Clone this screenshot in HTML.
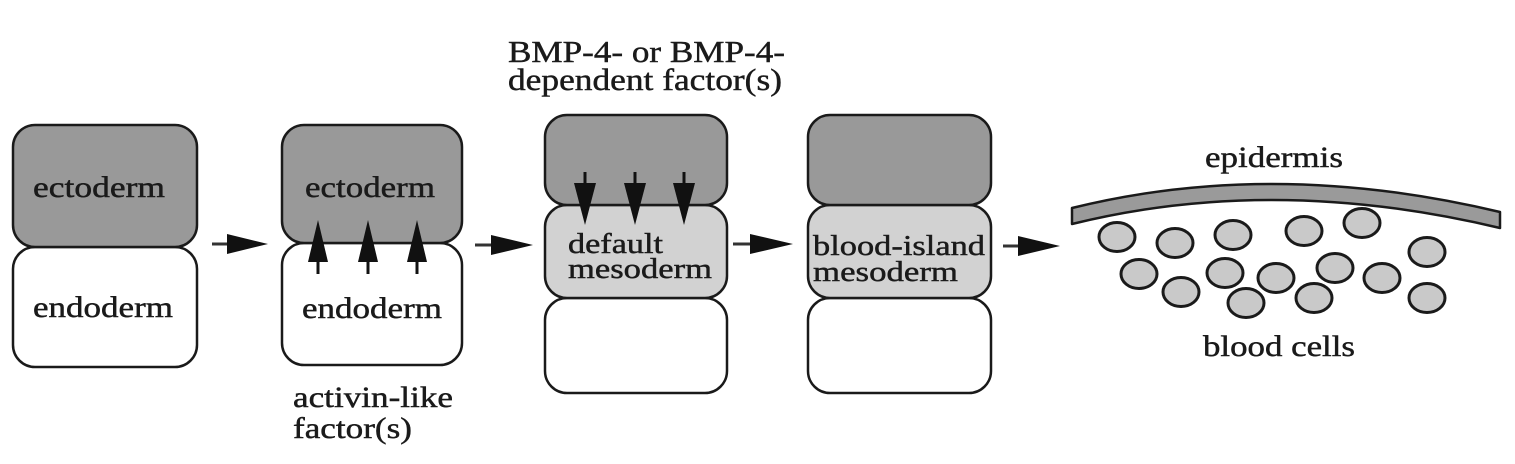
<!DOCTYPE html>
<html>
<head>
<meta charset="utf-8">
<style>
  html, body { margin: 0; padding: 0; background: #ffffff; }
  svg { display: block; }
  text { font-family: "Liberation Serif", "Times New Roman", serif; fill: #1a1a1a; stroke: #1a1a1a; stroke-width: 0.45; }
</style>
</head>
<body>
<svg width="1515" height="464" viewBox="0 0 1515 464" xmlns="http://www.w3.org/2000/svg">
  <rect x="0" y="0" width="1515" height="464" fill="#ffffff"/>

  <!-- Box 1 -->
  <rect x="13" y="247" width="184" height="120" rx="22" ry="22" fill="#ffffff" stroke="#1a1a1a" stroke-width="2.5"/>
  <rect x="13" y="125" width="184" height="122" rx="22" ry="22" fill="#999999" stroke="#1a1a1a" stroke-width="2.5"/>
  <text x="33" y="197" font-size="30" textLength="132" lengthAdjust="spacingAndGlyphs">ectoderm</text>
  <text x="33" y="317" font-size="30" textLength="140" lengthAdjust="spacingAndGlyphs">endoderm</text>

  <!-- Arrow 1 -->
  <line x1="212" y1="244" x2="232" y2="244" stroke="#333" stroke-width="3"/>
  <polygon points="227,234 268,244 227,254" fill="#111"/>

  <!-- Box 2 -->
  <rect x="282" y="243" width="180" height="122" rx="22" ry="22" fill="#ffffff" stroke="#1a1a1a" stroke-width="2.5"/>
  <rect x="282" y="125" width="180" height="118" rx="22" ry="22" fill="#999999" stroke="#1a1a1a" stroke-width="2.5"/>
  <text x="305" y="197" font-size="30" textLength="130" lengthAdjust="spacingAndGlyphs">ectoderm</text>
  <text x="302" y="318" font-size="30" textLength="140" lengthAdjust="spacingAndGlyphs">endoderm</text>
  <!-- up arrows -->
  <g fill="#111" stroke="#111">
    <line x1="318" y1="258" x2="318" y2="274" stroke-width="3"/>
    <polygon points="318,220 308,262 328,262" stroke="none"/>
    <line x1="368" y1="258" x2="368" y2="274" stroke-width="3"/>
    <polygon points="368,220 358,262 378,262" stroke="none"/>
    <line x1="417" y1="258" x2="417" y2="274" stroke-width="3"/>
    <polygon points="417,220 407,262 427,262" stroke="none"/>
  </g>
  <text x="293" y="407" font-size="30" textLength="160" lengthAdjust="spacingAndGlyphs">activin-like</text>
  <text x="293" y="438" font-size="30" textLength="119" lengthAdjust="spacingAndGlyphs">factor(s)</text>

  <!-- Arrow 2 -->
  <line x1="475" y1="245" x2="495" y2="245" stroke="#333" stroke-width="3"/>
  <polygon points="491,235 533,245 491,255" fill="#111"/>

  <!-- BMP label -->
  <text x="508" y="62" font-size="31" textLength="277" lengthAdjust="spacingAndGlyphs">BMP-4- or BMP-4-</text>
  <text x="508" y="90" font-size="31" textLength="274" lengthAdjust="spacingAndGlyphs">dependent factor(s)</text>

  <!-- Box 3 -->
  <rect x="545" y="298" width="182" height="95" rx="22" ry="22" fill="#ffffff" stroke="#1a1a1a" stroke-width="2.5"/>
  <rect x="545" y="205" width="182" height="93" rx="22" ry="22" fill="#d2d2d2" stroke="#1a1a1a" stroke-width="2.5"/>
  <rect x="545" y="115" width="182" height="90" rx="22" ry="22" fill="#999999" stroke="#1a1a1a" stroke-width="2.5"/>
  <!-- down arrows -->
  <g fill="#111" stroke="#111">
    <line x1="585" y1="172" x2="585" y2="186" stroke-width="3"/>
    <polygon points="574,183 596,183 585,225" stroke="none"/>
    <line x1="635" y1="172" x2="635" y2="186" stroke-width="3"/>
    <polygon points="624,183 646,183 635,225" stroke="none"/>
    <line x1="684" y1="172" x2="684" y2="186" stroke-width="3"/>
    <polygon points="673,183 695,183 684,225" stroke="none"/>
  </g>
  <text x="568" y="253" font-size="29" textLength="95" lengthAdjust="spacingAndGlyphs">default</text>
  <text x="568" y="278" font-size="29" textLength="144" lengthAdjust="spacingAndGlyphs">mesoderm</text>

  <!-- Arrow 3 -->
  <line x1="733" y1="244" x2="753" y2="244" stroke="#333" stroke-width="3"/>
  <polygon points="750,234 793,244 750,254" fill="#111"/>

  <!-- Box 4 -->
  <rect x="808" y="298" width="183" height="95" rx="22" ry="22" fill="#ffffff" stroke="#1a1a1a" stroke-width="2.5"/>
  <rect x="808" y="205" width="183" height="93" rx="22" ry="22" fill="#d2d2d2" stroke="#1a1a1a" stroke-width="2.5"/>
  <rect x="808" y="115" width="183" height="90" rx="22" ry="22" fill="#999999" stroke="#1a1a1a" stroke-width="2.5"/>
  <text x="813" y="255" font-size="29" textLength="172" lengthAdjust="spacingAndGlyphs">blood-island</text>
  <text x="813" y="281" font-size="29" textLength="145" lengthAdjust="spacingAndGlyphs">mesoderm</text>

  <!-- Arrow 4 -->
  <line x1="1003" y1="246" x2="1022" y2="246" stroke="#333" stroke-width="3"/>
  <polygon points="1018,236 1060,246 1018,256" fill="#111"/>

  <!-- Epidermis band -->
  <text x="1205" y="167" font-size="30" textLength="138" lengthAdjust="spacingAndGlyphs">epidermis</text>
  <path d="M1072,208 Q1274,158 1500,212 L1500,228 Q1274,174 1072,224 Z" fill="#9a9a9a" stroke="#1a1a1a" stroke-width="2.5" stroke-linejoin="round"/>

  <!-- Blood cells -->
  <g fill="#c9c9c9" stroke="#1a1a1a" stroke-width="3">
    <ellipse cx="1117" cy="237" rx="18" ry="14.5"/>
    <ellipse cx="1175" cy="243" rx="18" ry="14.5"/>
    <ellipse cx="1233" cy="235" rx="18" ry="14.5"/>
    <ellipse cx="1304" cy="231" rx="18" ry="14.5"/>
    <ellipse cx="1362" cy="223" rx="18" ry="14.5"/>
    <ellipse cx="1427" cy="252" rx="18" ry="14.5"/>
    <ellipse cx="1139" cy="274" rx="18" ry="14.5"/>
    <ellipse cx="1181" cy="292" rx="18" ry="14.5"/>
    <ellipse cx="1225" cy="273" rx="18" ry="14.5"/>
    <ellipse cx="1246" cy="303" rx="18" ry="14.5"/>
    <ellipse cx="1276" cy="278" rx="18" ry="14.5"/>
    <ellipse cx="1335" cy="268" rx="18" ry="14.5"/>
    <ellipse cx="1314" cy="298" rx="18" ry="14.5"/>
    <ellipse cx="1382" cy="278" rx="18" ry="14.5"/>
    <ellipse cx="1427" cy="298" rx="18" ry="14.5"/>
  </g>
  <text x="1203" y="356" font-size="30" textLength="152" lengthAdjust="spacingAndGlyphs">blood cells</text>
</svg>
</body>
</html>
